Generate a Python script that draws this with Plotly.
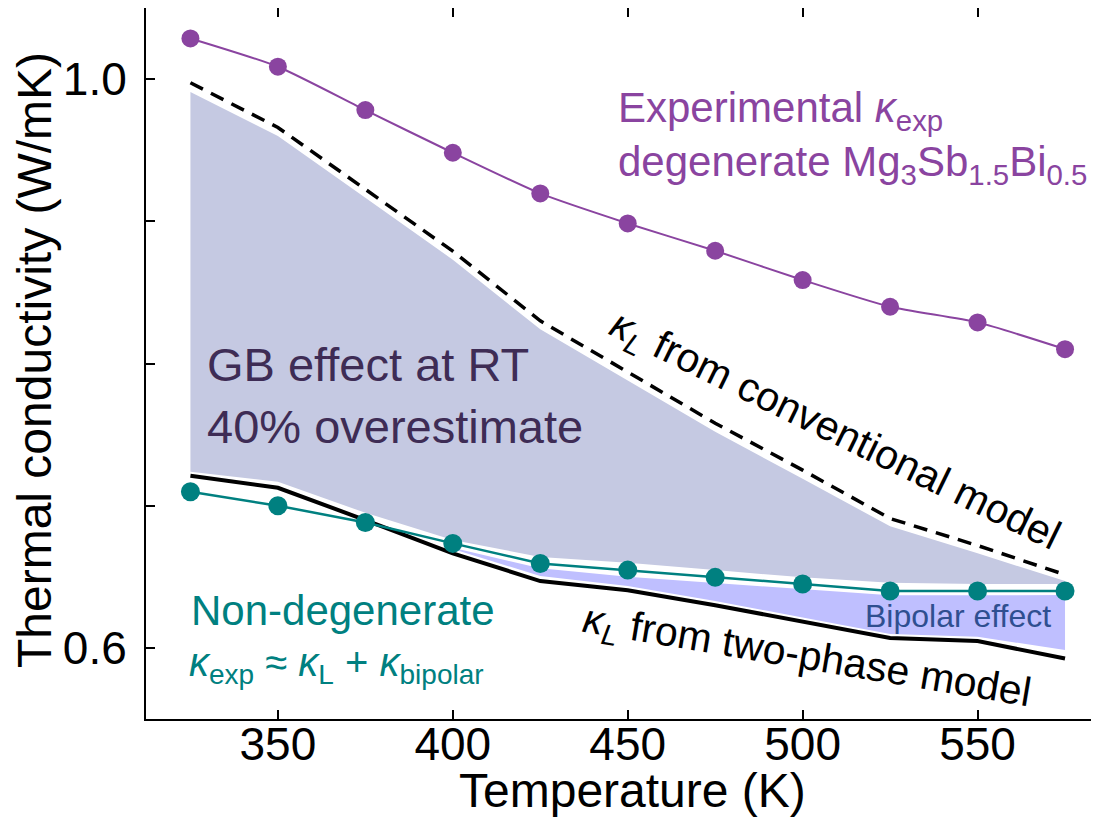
import plotly.graph_objects as go

# ---------------- data ----------------
T = [325, 350, 375, 400, 425, 450, 475, 500, 525, 550, 575]
kappa_exp_degenerate = [1.0286, 1.0087, 0.9782, 0.9482, 0.9196, 0.8985, 0.8793, 0.8587, 0.8399, 0.8289, 0.8101]
kappa_exp_nondegenerate = [0.7098, 0.7000, 0.6882, 0.6735, 0.6594, 0.6547, 0.6496, 0.6449, 0.6400, 0.6400, 0.6400]
kappa_L_two_phase = [0.7210, 0.7126, 0.6899, 0.6665, 0.6470, 0.6406, 0.6300, 0.6184, 0.6070, 0.6048, 0.5926]
kappa_L_conventional = [0.9974, 0.9660, 0.9225, 0.8790, 0.8300, 0.7940, 0.7580, 0.7250, 0.6910, 0.6720, 0.6515]

# shaded regions
gb_upper = [0.9910, 0.9600, 0.9165, 0.8730, 0.8240, 0.7880, 0.7520, 0.7190, 0.6855, 0.6665, 0.6470]
gb_lower = [0.7238, 0.7168, 0.6950, 0.6758, 0.6640, 0.6598, 0.6547, 0.6496, 0.6458, 0.6450, 0.6450]
T_bipolar = [400, 425, 450, 475, 500, 525, 550, 575]
bipolar_upper = [0.6705, 0.6560, 0.6500, 0.6455, 0.6410, 0.6370, 0.6370, 0.6372]
bipolar_lower = [0.6695, 0.6505, 0.6435, 0.6330, 0.6214, 0.6097, 0.6078, 0.5985]

x_ticks = [350, 400, 450, 500, 550]
y_ticks = [0.6, 0.7, 0.8, 0.9, 1.0]
y_ticktext = ["0.6", "", "", "", "1.0"]

# ---------------- styling ----------------
FONT = "Liberation Sans, Arial, sans-serif"
PURPLE = "#8a44a0"
TEAL = "#008080"
GB_FILL = "#c5c9e2"
BIP_FILL = "#bfbfff"
GB_TEXT = "#3e2c55"
BIP_TEXT = "#2f4f90"

W, H = 1099, 825
OFF = 8  # page body margin
L_M, R_M, T_M, B_M = 138, 0, 0, 114
PW = W - L_M - R_M
PH = H - T_M - B_M


def px(xp):
    return (xp - OFF - L_M) / PW


def py(yp):
    return (OFF + H - B_M - yp) / PH


fig = go.Figure()

# GB effect region
fig.add_trace(go.Scatter(x=T, y=gb_lower, mode="lines", line=dict(width=0),
                         showlegend=False, hoverinfo="skip"))
fig.add_trace(go.Scatter(x=T, y=gb_upper, mode="lines", line=dict(width=0),
                         fill="tonexty", fillcolor=GB_FILL,
                         showlegend=False, hoverinfo="skip"))
# Bipolar region
fig.add_trace(go.Scatter(x=T_bipolar, y=bipolar_lower, mode="lines", line=dict(width=0),
                         showlegend=False, hoverinfo="skip"))
fig.add_trace(go.Scatter(x=T_bipolar, y=bipolar_upper, mode="lines", line=dict(width=0),
                         fill="tonexty", fillcolor=BIP_FILL,
                         showlegend=False, hoverinfo="skip"))

# conventional model (dashed)
fig.add_trace(go.Scatter(x=T, y=kappa_L_conventional, mode="lines",
                         line=dict(color="black", width=3.5, dash="14px,9px"),
                         showlegend=False))
# two-phase model
fig.add_trace(go.Scatter(x=T, y=kappa_L_two_phase, mode="lines",
                         line=dict(color="black", width=4),
                         showlegend=False))
# non-degenerate experimental
fig.add_trace(go.Scatter(x=T, y=kappa_exp_nondegenerate, mode="lines+markers",
                         line=dict(color=TEAL, width=2.5),
                         marker=dict(color=TEAL, size=19),
                         showlegend=False))
# degenerate experimental
fig.add_trace(go.Scatter(x=T, y=kappa_exp_degenerate, mode="lines+markers",
                         line=dict(color=PURPLE, width=2, shape="spline", smoothing=0.6),
                         marker=dict(color=PURPLE, size=18),
                         showlegend=False))

ann = []


def add_text(text, xp, yp, size, color, xanchor="left", angle=0, yanchor="middle"):
    ann.append(dict(text=text, x=px(xp), y=py(yp), xref="paper", yref="paper",
                    xanchor=xanchor, yanchor=yanchor, showarrow=False, textangle=angle,
                    font=dict(family=FONT, size=size, color=color)))


add_text("Experimental <i>κ</i><sub>exp</sub>", 616, 110, 42, PURPLE)
add_text("degenerate Mg<sub>3</sub>Sb<sub>1.5</sub>Bi<sub>0.5</sub>", 616, 164, 42, PURPLE)
add_text("GB effect at RT", 205, 364, 47, GB_TEXT)
add_text("40% overestimate", 205, 426, 47, GB_TEXT)
add_text("Non-degenerate", 189, 610, 42, TEAL)
add_text("<i>κ</i><sub>exp</sub> ≈ <i>κ</i><sub>L</sub> + <i>κ</i><sub>bipolar</sub>", 187, 665, 40, TEAL)
add_text("Bipolar effect", 1053, 616, 32, BIP_TEXT, xanchor="right")
add_text("<i>κ</i><sub><i>L</i></sub> from conventional model", 834, 432, 41, "black",
         xanchor="center", angle=26)
add_text("<i>κ</i><sub><i>L</i></sub> from two-phase model", 806, 658, 41, "black",
         xanchor="center", angle=9.5)
# axis titles
add_text("Temperature (K)", 632, 790, 48, "black", xanchor="center")
add_text("Thermal conductivity (W/mK)", 34, 360, 48, "black", xanchor="center", angle=-90)

axis_common = dict(showline=True, linecolor="black", linewidth=2, mirror="ticks",
                   ticks="inside", ticklen=9, tickwidth=1.5, tickcolor="black",
                   showgrid=False, zeroline=False, automargin=False,
                   tickfont=dict(family=FONT, size=46, color="black"))

fig.update_layout(
    width=W, height=H,
    margin=dict(l=L_M, r=R_M, t=T_M, b=B_M, autoexpand=False),
    paper_bgcolor="white", plot_bgcolor="white",
    xaxis=dict(range=[312.3, 587.0], tickvals=x_ticks, ticklabelstandoff=-16,
               **axis_common),
    yaxis=dict(range=[0.55, 1.05], tickvals=y_ticks, ticktext=y_ticktext,
               ticklabelstandoff=8,
               **axis_common),
    annotations=ann,
)

fig.write_html("out.html")
